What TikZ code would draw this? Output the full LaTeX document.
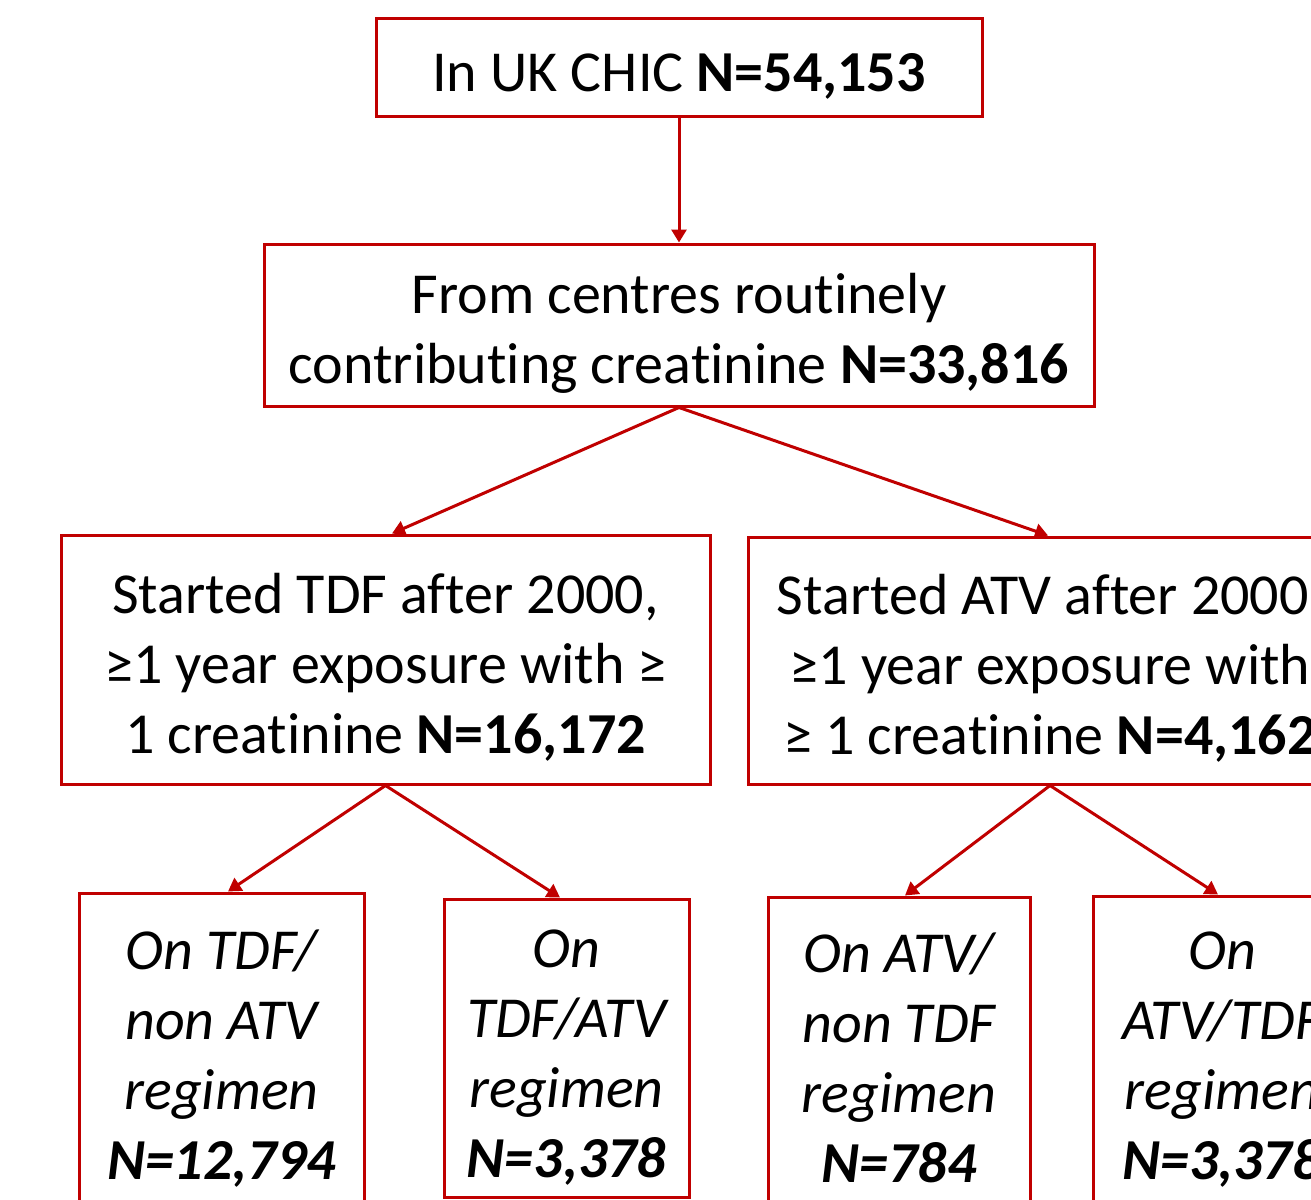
\documentclass[tikz,border=0pt]{standalone}
\usepackage{fontspec}
\setmainfont{Carlito}[Ligatures=NoCommon]
\usetikzlibrary{arrows.meta}
\definecolor{dred}{HTML}{C00000}
\newcommand{\dn}{\rule{0pt}{56pt}}
\begin{document}
\begin{tikzpicture}[x=1pt,y=-1pt,
  box/.style={draw=dred,line width=3pt,fill=white,inner sep=0pt,align=center,
    font=\fontsize{58}{70}\selectfont,text=black},
  ibox/.style={box,font=\fontsize{58}{70}\selectfont\itshape},
  arr/.style={draw=dred,line width=3pt,-{Triangle[width=15pt,length=13pt]}}]
\useasboundingbox (0,0) rectangle (1311,1199);
\clip (0,0) rectangle (1311,1199);
\fill[white] (0,0) rectangle (1311,1199);
\node[box,minimum width=606pt,minimum height=97pt] (b1) at (679,67.5)
  {\dn In UK CHIC \textbf{N=54,153}};
\node[box,minimum width=830pt,minimum height=162pt] (b2) at (679,325)
  {\dn From centres routinely\\contributing creatinine \textbf{N=33,816}};
\node[box,minimum width=649pt,minimum height=249pt] (b3) at (385.5,659.5)
  {\dn Started TDF after 2000,\\≥1 year exposure with ≥\\1 creatinine \textbf{N=16,172}};
\node[box,minimum width=604pt,minimum height=247pt] (b4) at (1050,660.5)
  {\dn Started ATV after 2000,\\≥1 year exposure with\\≥ 1 creatinine \textbf{N=4,162}};
\node[ibox,minimum width=285pt,minimum height=314pt] (b5) at (221.5,1050)
  {\dn On TDF/\\non ATV\\regimen\\\textbf{N=12,794}};
\node[ibox,minimum width=245pt,minimum height=298pt] (b6) at (566.5,1048)
  {\dn On\\TDF/ATV\\regimen\\\textbf{N=3,378}};
\node[ibox,minimum width=262pt,minimum height=306pt] (b7) at (899,1050)
  {\dn On ATV/\\non TDF\\regimen\\\textbf{N=784}};
\node[ibox,minimum width=258pt,minimum height=308pt] (b8) at (1222,1050)
  {\dn On\\ATV/TDF\\regimen\\\textbf{N=3,378}};
\draw[arr] (b1.south) -- (b2.north);
\draw[arr] (b2.south) -- ([xshift=6.5pt]b3.north);
\draw[arr] (b2.south) -- ([xshift=-2pt]b4.north);
\draw[arr] (b3.south) -- ([xshift=6.5pt]b5.north);
\draw[arr] (b3.south) -- ([xshift=-6.5pt]b6.north);
\draw[arr] (b4.south) -- ([xshift=6pt]b7.north);
\draw[arr] (b4.south) -- ([xshift=-4pt]b8.north);
\end{tikzpicture}
\end{document}
